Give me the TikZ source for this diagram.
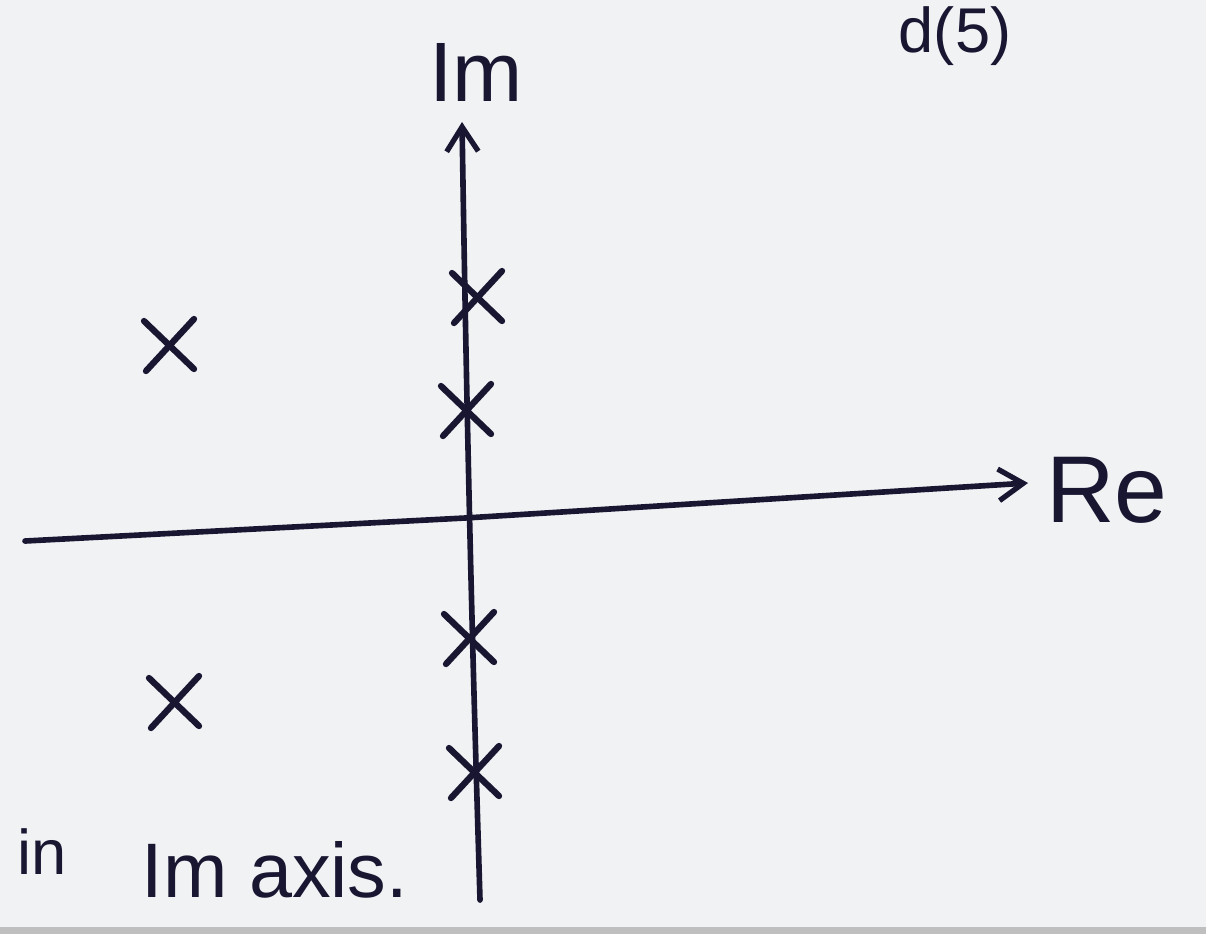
\documentclass[tikz,border=0pt]{standalone}
\usepackage{fontspec}
\setmainfont{Liberation Sans}
\usetikzlibrary{arrows.meta}
\definecolor{ink}{RGB}{25,22,50}
\definecolor{paper}{RGB}{240,242,244}
\tikzset{
  axisline/.style={draw=ink, line width=3.2pt, line cap=round, -{Straight Barb[length=14pt,width=18pt,line width=3pt]}},
  pole/.style={draw=none, inner sep=0pt, minimum size=0pt},
  crossstroke/.style={draw=ink, line width=3.6pt, line cap=round},
  hand/.style={text=ink, inner sep=0pt}
}
\begin{document}
\begin{tikzpicture}[x=0.02cm,y=-0.02cm]
\fill[paper] (0,0) rectangle (1206,934);
\useasboundingbox (0,0) rectangle (1206,934);
% axes
\coordinate (rl) at (25,541);
\coordinate (rm) at (465,518);
\coordinate (rr) at (1028,483);
\coordinate (ib) at (480,900);
\coordinate (it) at (462,122);
\draw[axisline] (rl) -- (rm) -- (rr);
\draw[axisline] (ib) .. controls (474,700) and (468,500) .. (it);
% poles
\foreach \n/\x/\y in {p1/478/297, p2/467/410, p3/470/638, p4/475/772, p5/170/345, p6/175/702} {
  \node[pole] (\n) at (\x,\y) {};
  \draw[crossstroke] ([shift={(-26,-24)}]\n.center) -- ([shift={(24,24)}]\n.center);
  \draw[crossstroke] ([shift={(-24,26)}]\n.center) -- ([shift={(24,-26)}]\n.center);
}
% labels
\node[hand, font=\fontsize{48}{52}\selectfont] (imlab) at (476,72) {Im};
\node[hand, font=\fontsize{36}{40}\selectfont] (dlab) at (955,36) {d(5)};
\node[hand, font=\fontsize{54}{58}\selectfont] (relab) at (1107,490) {Re};
\node[hand, font=\fontsize{36}{40}\selectfont] (inlab) at (42,852) {in};
\node[hand, font=\fontsize{44}{48}\selectfont] (axlab) at (275,870) {Im axis.};
% bottom edge shade
\fill[black!25] (0,927) rectangle (1206,934);
\end{tikzpicture}
\end{document}
